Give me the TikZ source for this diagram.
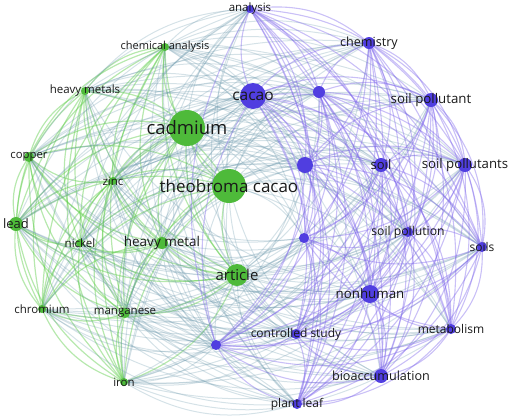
\documentclass[tikz,border=0pt]{standalone}
\usepackage{fontspec}
\setmainfont{Open Sans}
\pgfdeclarelayer{bg}
\pgfsetlayers{bg,main}
\definecolor{gnode}{RGB}{78,186,58}
\definecolor{pnode}{RGB}{80,62,224}
\definecolor{gline}{RGB}{95,205,75}
\definecolor{pline}{RGB}{128,105,235}
\definecolor{mline}{RGB}{105,150,170}
\definecolor{txt}{RGB}{25,25,25}
\tikzset{
  dotg/.style={circle,fill=gnode,inner sep=0pt},
  dotp/.style={circle,fill=pnode,inner sep=0pt},
  egg/.style={draw=gline,line width=1.2pt,opacity=0.45},
  epp/.style={draw=pline,line width=1.1pt,opacity=0.42},
  egp/.style={draw=mline,line width=1pt,opacity=0.28},
  epg/.style={egp},
  lbl/.style={text=txt,inner sep=0pt}
}
\def\nodelist{
cha/165/47/g/4/11/chemical analysis,
hms/85/91/g/4/11.5/heavy metals,
cad/187/128/g/18/18.5/cadmium,
cop/29/157/g/5/11.3/copper,
zin/113/181/g/4/11.5/zinc,
the/229/186/g/17/17/theobroma cacao,
lea/16/224/g/7/13/lead,
nic/80/243/g/4/11.5/nickel,
hme/162/243/g/6/13.5/heavy metal,
art/237/275/g/11/15/article,
chr/42/309/g/4/11.5/chromium,
man/125/313/g/5/11.5/manganese,
iro/124/382/g/4/11.5/iron,
ana/250/9/p/4/11.5/analysis,
che/369/43/p/6/12.6/chemistry,
cac/253/96/p/13/15.5/cacao,
ua/319/92/p/6/1/{},
spt/431/100/p/7/13.3/soil pollutant,
ub/305/165/p/8/1/{},
soi/381/165/p/7/13/soil,
sps/465/165/p/7/13.2/soil pollutants,
uc/304/238/p/5/1/{},
spn/408/232/p/5/12.2/soil pollution,
sos/482/247/p/5/12/soils,
non/370/294/p/9/13.3/nonhuman,
con/296/334/p/5/12/controlled study,
ud/216/345/p/5/1/{},
met/451/329/p/5/12/metabolism,
bio/381/376/p/7/12.6/bioaccumulation,
pla/297/404/p/5/12/plant leaf}
\begin{document}
\begin{tikzpicture}[x=1pt,y=-1pt]
\useasboundingbox (0,0) rectangle (517,416);
% nodes (dots)
\foreach \n/\x/\y/\c/\r/\s/\t in \nodelist {
  \node[dot\c,minimum size=2*\r pt] (\n) at (\x,\y) {};
}
% edges
\begin{pgfonlayer}{bg}
\foreach \na/\xa/\ya/\ca/\ra/\sa/\ta [count=\i] in \nodelist {
  \foreach \nb/\xb/\yb/\cb/\rb/\sb/\tb [count=\j] in \nodelist {
    \ifnum\i<\j
      \pgfmathsetmacro\dd{mod(atan2(\yb-210,\xb-260)-atan2(\ya-210,\xa-260)+720,360)}
      \ifdim\dd pt<180pt \def\bang{24}\else\def\bang{-24}\fi
      \draw[e\ca\cb] (\na.center) to[bend left=\bang] (\nb.center);
    \fi
  }
}
\end{pgfonlayer}
% labels
\foreach \n/\x/\y/\c/\r/\s/\t in \nodelist {
  \node[lbl,font=\fontsize{\s}{\s}\selectfont] (\n-l) at (\n.center) {\t};
}
\end{tikzpicture}
\end{document}
